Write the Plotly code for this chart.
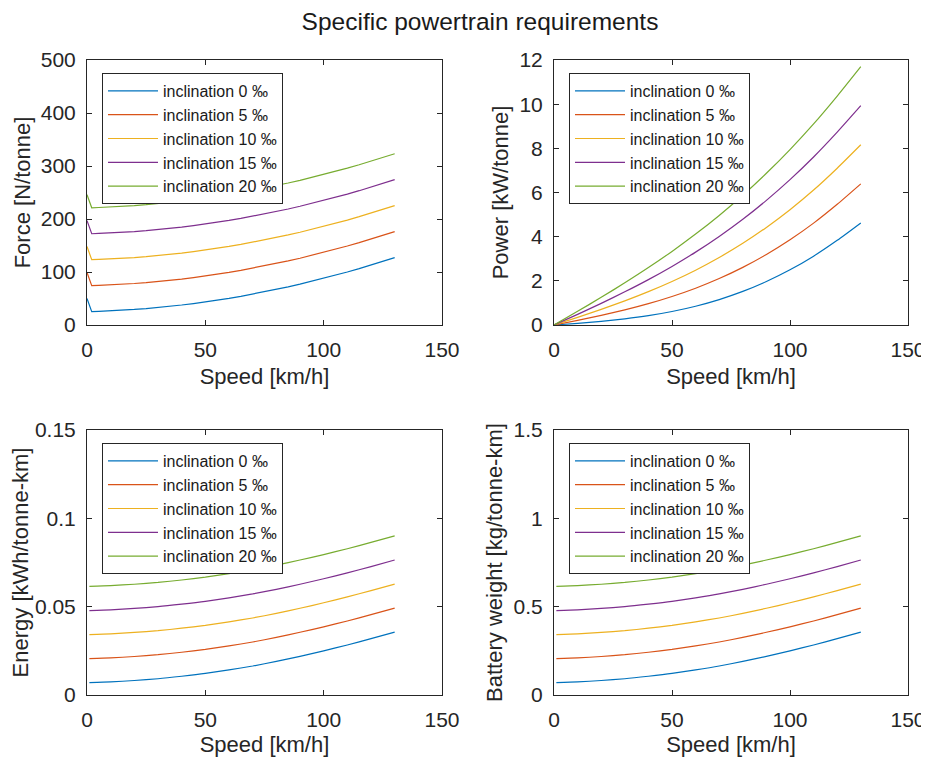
import plotly.graph_objects as go

# legend labels and MATLAB default line colours
inclinations = ['inclination 0 ‰', 'inclination 5 ‰', 'inclination 10 ‰',
                'inclination 15 ‰', 'inclination 20 ‰']
colors = ['#0072BD', '#D95319', '#EDB120', '#7E2F8E', '#77AC30']

# Force [N/tonne] vs speed (spike at standstill)
speed_force = [0, 2, 5, 10, 15, 20, 25, 30, 35, 40, 45, 50, 55, 60, 65,
               70, 75, 80, 85, 90, 95, 100, 105, 110, 115, 120, 125, 130]
force_0 = [50, 25.2, 25.7, 26.6, 27.8, 29.3, 31.0, 33.0, 35.2, 37.7, 40.5, 43.5, 46.8, 50.3, 54.1,
           58.2, 62.5, 67.1, 71.9, 77.0, 82.4, 88.0, 93.9, 100.0, 106.4, 113.1, 120.0, 127.2]
force_5 = [99, 74.2, 74.7, 75.6, 76.8, 78.3, 80.0, 82.0, 84.2, 86.7, 89.5, 92.5, 95.8, 99.3, 103.1,
           107.2, 111.5, 116.1, 120.9, 126.0, 131.4, 137.0, 142.9, 149.0, 155.4, 162.1, 169.0, 176.2]
force_10 = [148, 123.2, 123.7, 124.6, 125.8, 127.3, 129.0, 131.0, 133.2, 135.7, 138.5, 141.5, 144.8, 148.3, 152.1,
            156.2, 160.5, 165.1, 169.9, 175.0, 180.4, 186.0, 191.9, 198.0, 204.4, 211.1, 218.0, 225.2]
force_15 = [197, 172.2, 172.7, 173.6, 174.8, 176.3, 178.0, 180.0, 182.2, 184.7, 187.5, 190.5, 193.8, 197.3, 201.1,
            205.2, 209.5, 214.1, 218.9, 224.0, 229.4, 235.0, 240.9, 247.0, 253.4, 260.1, 267.0, 274.2]
force_20 = [246, 221.2, 221.7, 222.6, 223.8, 225.3, 227.0, 229.0, 231.2, 233.7, 236.5, 239.5, 242.8, 246.3, 250.1,
            254.2, 258.5, 263.1, 267.9, 273.0, 278.4, 284.0, 289.9, 296.0, 302.4, 309.1, 316.0, 323.2]

# Power [kW/tonne] vs speed
speed_power = [0, 10, 20, 30, 40, 50, 60, 70, 80, 90, 100, 110, 120, 130]
power_0 = [0, 0.074, 0.163, 0.277, 0.422, 0.611, 0.85, 1.151, 1.52, 1.97, 2.5, 3.117, 3.833, 4.622]
power_5 = [0, 0.21, 0.436, 0.685, 0.967, 1.292, 1.667, 2.104, 2.609, 3.195, 3.861, 4.614, 5.467, 6.392]
power_10 = [0, 0.346, 0.708, 1.093, 1.511, 1.972, 2.483, 3.057, 3.698, 4.42, 5.222, 6.111, 7.1, 8.161]
power_15 = [0, 0.482, 0.98, 1.502, 2.056, 2.653, 3.3, 4.009, 4.787, 5.645, 6.583, 7.608, 8.733, 9.931]
power_20 = [0, 0.618, 1.252, 1.91, 2.6, 3.333, 4.117, 4.962, 5.876, 6.87, 7.944, 9.106, 10.367, 11.7]

# Energy [kWh/tonne-km] and battery weight [kg/tonne-km] vs speed
speed_energy = [1, 10, 20, 30, 40, 50, 60, 70, 80, 90, 100, 110, 120, 130]
energy_0 = [0.0070, 0.0074, 0.0082, 0.0092, 0.0106, 0.0122, 0.0142, 0.0164, 0.0190, 0.0219, 0.0250, 0.0283, 0.0319, 0.0356]
energy_5 = [0.0206, 0.0210, 0.0218, 0.0228, 0.0242, 0.0258, 0.0278, 0.0300, 0.0326, 0.0355, 0.0386, 0.0419, 0.0455, 0.0492]
energy_10 = [0.0342, 0.0346, 0.0354, 0.0364, 0.0378, 0.0394, 0.0414, 0.0436, 0.0462, 0.0491, 0.0522, 0.0555, 0.0591, 0.0628]
energy_15 = [0.0478, 0.0482, 0.0490, 0.0500, 0.0514, 0.0530, 0.0550, 0.0572, 0.0598, 0.0627, 0.0658, 0.0691, 0.0727, 0.0764]
energy_20 = [0.0615, 0.0619, 0.0627, 0.0637, 0.0651, 0.0667, 0.0687, 0.0709, 0.0735, 0.0764, 0.0795, 0.0828, 0.0864, 0.0901]

battery_0 = [0.070, 0.074, 0.082, 0.092, 0.106, 0.122, 0.142, 0.164, 0.190, 0.219, 0.250, 0.283, 0.319, 0.356]
battery_5 = [0.206, 0.210, 0.218, 0.228, 0.242, 0.258, 0.278, 0.300, 0.326, 0.355, 0.386, 0.419, 0.455, 0.492]
battery_10 = [0.342, 0.346, 0.354, 0.364, 0.378, 0.394, 0.414, 0.436, 0.462, 0.491, 0.522, 0.555, 0.591, 0.628]
battery_15 = [0.478, 0.482, 0.490, 0.500, 0.514, 0.530, 0.550, 0.572, 0.598, 0.627, 0.658, 0.691, 0.727, 0.764]
battery_20 = [0.615, 0.619, 0.627, 0.637, 0.651, 0.667, 0.687, 0.709, 0.735, 0.764, 0.795, 0.828, 0.864, 0.901]

# (x, series, y label, y range, y tick step, line shape)
panels = [
    (speed_force, [force_0, force_5, force_10, force_15, force_20], 'Force [N/tonne]', [0, 500], 100, 'linear'),
    (speed_power, [power_0, power_5, power_10, power_15, power_20], 'Power [kW/tonne]', [0, 12], 2, 'spline'),
    (speed_energy, [energy_0, energy_5, energy_10, energy_15, energy_20], 'Energy [kWh/tonne-km]', [0, 0.15], 0.05, 'spline'),
    (speed_energy, [battery_0, battery_5, battery_10, battery_15, battery_20], 'Battery weight [kg/tonne-km]', [0, 1.5], 0.5, 'spline'),
]

# the page body has an 8px margin, so the figure is drawn 8px in from the window edge;
# keep the page height within the window so no scrollbar steals width
OFF = 8
W, H = 929 - OFF, 765 - 2 * OFF
# panel boxes in window pixels: (left, right, top, bottom)
boxes = [(87, 442, 60, 325), (554, 908, 60, 325), (87, 442, 430, 695), (554, 908, 430, 695)]
axcol = '#262626'
font = 'Liberation Sans, Arial, sans-serif'


def px(x):
    return (x - OFF) / W


def py(y):
    return 1 - (y - OFF) / H


fig = go.Figure()
layout = dict(
    width=W, height=H, margin=dict(l=0, r=0, t=0, b=0),
    paper_bgcolor='white', plot_bgcolor='white',
    font=dict(family=font, color=axcol),
    title=dict(text='Specific powertrain requirements', x=px(480), y=py(21),
               xanchor='center', yanchor='middle', font=dict(size=24.5, color='#1a1a1a')),
)

for i, (xs, series, ylabel, yrange, dy, shape) in enumerate(panels):
    n = '' if i == 0 else str(i + 1)
    leg = 'legend' + n
    for name, ys, c in zip(inclinations, series, colors):
        line = dict(color=c, width=1.2, shape=shape)
        if shape == 'spline':
            line['smoothing'] = 0.6
        fig.add_trace(go.Scatter(x=xs, y=ys, mode='lines', name=name, line=line,
                                 xaxis='x' + n, yaxis='y' + n, legend=leg))
    l, r, t, b = boxes[i]
    common = dict(showline=True, linecolor=axcol, linewidth=1, mirror='ticks',
                  ticks='inside', ticklen=5, tickcolor=axcol, showgrid=False,
                  zeroline=False, tickfont=dict(size=21, color=axcol), automargin=False,
                  ticklabeloverflow='allow')
    layout['xaxis' + n] = dict(common, domain=[px(l), px(r)], range=[0, 150], dtick=50,
                               anchor='y' + n, ticklabelstandoff=6,
                               title=dict(text='Speed [km/h]', font=dict(size=22), standoff=8))
    layout['yaxis' + n] = dict(common, domain=[py(b), py(t)], range=yrange, dtick=dy,
                               anchor='x' + n, ticklabelstandoff=6,
                               title=dict(text=ylabel, font=dict(size=22), standoff=4))
    layout[leg] = dict(x=px(l + 15), y=py(t + 13), xanchor='left', yanchor='top',
                       bgcolor='white', bordercolor=axcol, borderwidth=1,
                       font=dict(size=16, color='#1a1a1a'), itemwidth=50,
                       tracegroupgap=0)

fig.update_layout(**layout)
fig.write_html('out.html')
